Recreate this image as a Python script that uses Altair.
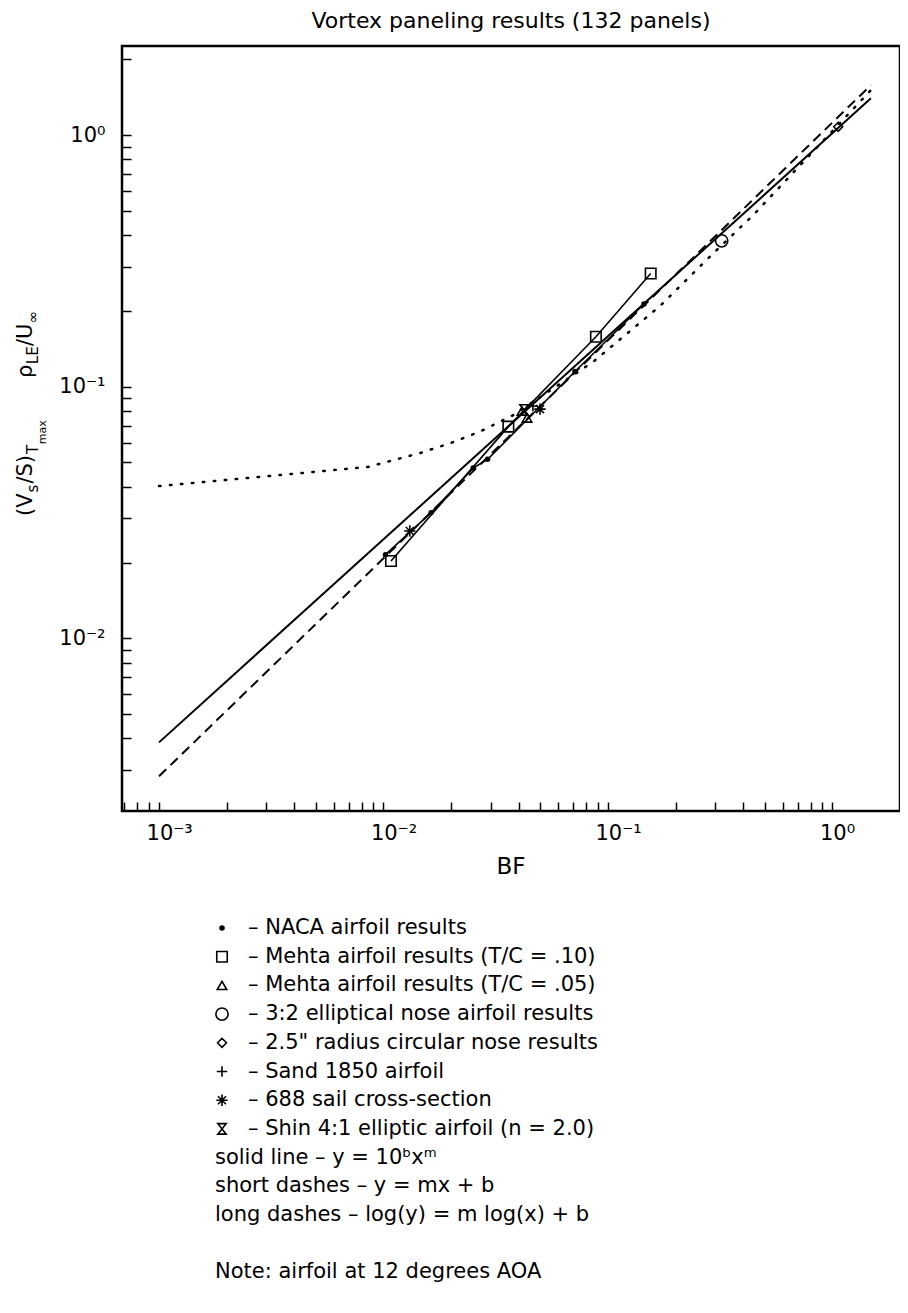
import altair as alt
import pandas as pd

# ---------------- values ----------------
# data series (BF, (Vs/S)Tmax * rhoLE / Uinf)
naca_bf = [0.0102, 0.0163, 0.0251, 0.0291, 0.0713, 0.1447]
naca_v = [0.0215, 0.0316, 0.0475, 0.0515, 0.1149, 0.2132]
mehta10_bf = [0.0108, 0.0360, 0.0884, 0.155]
mehta10_v = [0.0203, 0.0694, 0.158, 0.282]
mehta05_bf = [0.0414, 0.0436]
mehta05_v = [0.0800, 0.0751]
ellip_bf = [0.321]
ellip_v = [0.380]
circnose_bf = [1.061]
circnose_v = [1.079]
sand_bf = [0.0463]
sand_v = [0.0838]
sail_bf = [0.0131, 0.0498]
sail_v = [0.0267, 0.0815]
shin_bf = [0.0423]
shin_v = [0.0808]

# fitted curves
solid_bf = [0.001, 1.484]
solid_v = [0.00386, 1.40]
long_bf = [0.001, 1.484]
long_v = [0.00283, 1.58]
short_bf = [0.001, 0.00853, 0.01454, 0.0201, 0.0269, 0.0379, 0.086, 0.1704, 0.2944, 0.4437, 1.484]
short_v = [0.0403, 0.0480, 0.0545, 0.0599, 0.0663, 0.0772, 0.1257, 0.2092, 0.3388, 0.481, 1.509]

# axis tick values
x_ticks = [m * 10.0 ** e for e in range(-4, 1) for m in range(1, 10)]
x_ticks = [t for t in x_ticks if 6.9e-4 <= t <= 2.0] + [2.0]
y_ticks = [m * 10.0 ** e for e in range(-3, 1) for m in range(1, 10)]
y_ticks = [t for t in y_ticks if 2.5e-3 <= t <= 2.2] + [2.0]

title_text = "Vortex paneling results (132 panels)"
x_title = "BF"
legend_symbol_rows = [
    ("naca", "–  NACA airfoil results"),
    ("m10", "–  Mehta airfoil results (T/C = .10)"),
    ("m05", "–  Mehta airfoil results (T/C = .05)"),
    ("ellip", "–  3:2 elliptical nose airfoil results"),
    ("circ", "–  2.5\" radius circular nose results"),
    ("sand", "–  Sand 1850 airfoil"),
    ("sail", "–  688 sail cross-section"),
    ("shin", "–  Shin 4:1 elliptic airfoil (n = 2.0)"),
]
legend_text_rows = [
    "solid line  –  y = 10ᵇxᵐ",
    "short dashes  –  y = mx + b",
    "long dashes  –  log(y) = m log(x) + b",
]
note_text = "Note: airfoil at 12 degrees AOA"

# ---------------- styling ----------------
FONT = "DejaVu Sans"
W, H = 778, 765

PLUS = "M-1,0L1,0M0,-1L0,1"
STAR = "M-1,0L1,0M0,-1L0,1M-0.7,-0.7L0.7,0.7M-0.7,0.7L0.7,-0.7"
HOURGLASS = "M-0.8,-1L0.8,-1L-0.8,1L0.8,1Z"

styles = {
    "naca": dict(shape="circle", size=30, filled=True),
    "m10": dict(shape="square", size=110, filled=False),
    "m05": dict(shape="triangle-up", size=90, filled=False),
    "ellip": dict(shape="circle", size=150, filled=False),
    "circ": dict(shape="diamond", size=80, filled=False),
    "sand": dict(shape=PLUS, size=110, filled=False),
    "sail": dict(shape=STAR, size=130, filled=False),
    "shin": dict(shape=HOURGLASS, size=110, filled=False),
}
series_data = {
    "naca": (naca_bf, naca_v),
    "m10": (mehta10_bf, mehta10_v),
    "m05": (mehta05_bf, mehta05_v),
    "ellip": (ellip_bf, ellip_v),
    "circ": (circnose_bf, circnose_v),
    "sand": (sand_bf, sand_v),
    "sail": (sail_bf, sail_v),
    "shin": (shin_bf, shin_v),
}

xscale = alt.Scale(type="log", domain=[6.84e-4, 2.0], nice=False)
yscale = alt.Scale(type="log", domain=[2.06e-3, 2.26], nice=False)

x_label_expr = (
    "abs(datum.value-0.001)<1e-9 ? '10⁻³' : abs(datum.value-0.01)<1e-9 ? '10⁻²' : "
    "abs(datum.value-0.1)<1e-9 ? '10⁻¹' : abs(datum.value-1)<1e-9 ? '10⁰' : ''"
)
y_label_expr = (
    "abs(datum.value-0.01)<1e-9 ? '10⁻²' : abs(datum.value-0.1)<1e-9 ? '10⁻¹' : "
    "abs(datum.value-1)<1e-9 ? '10⁰' : ''"
)

x_axis = alt.Axis(
    values=x_ticks, labelExpr=x_label_expr, offset=-9, tickSize=9, tickWidth=1.5,
    tickColor="black", domain=False, grid=False, title=None, labelFont=FONT,
    labelFontSize=21, labelColor="black", labelPadding=11, labelAlign="left",
    labelOffset=-13, labelFlush=False, labelOverlap=False, labelBound=False,
)
y_axis = alt.Axis(
    values=y_ticks, labelExpr=y_label_expr, offset=-9, tickSize=9, tickWidth=1.5,
    tickColor="black", domain=False, grid=False, title=None, labelFont=FONT,
    labelFontSize=21, labelColor="black", labelPadding=17, labelAlign="right",
    labelBaseline="middle", labelFlush=False, labelOverlap=False, labelBound=False,
)

X = alt.X("bf:Q", scale=xscale, axis=x_axis)
Y = alt.Y("v:Q", scale=yscale, axis=y_axis)


def frame(bf, v):
    return pd.DataFrame({"bf": bf, "v": v})


layers = []

# fitted lines
layers.append(alt.Chart(frame(solid_bf, solid_v)).mark_line(color="black", strokeWidth=2).encode(x=X, y=Y))
layers.append(alt.Chart(frame(long_bf, long_v)).mark_line(color="black", strokeWidth=2, strokeDash=[10, 6]).encode(x=X, y=Y))
layers.append(alt.Chart(frame(short_bf, short_v)).mark_line(color="black", strokeWidth=2.5, strokeDash=[1.5, 9.5], strokeCap="round").encode(x=X, y=Y))

# connecting lines of data series
layers.append(alt.Chart(frame(naca_bf, naca_v)).mark_line(color="black", strokeWidth=1.6).encode(x=X, y=Y))
layers.append(alt.Chart(frame(mehta10_bf, mehta10_v)).mark_line(color="black", strokeWidth=1.6).encode(x=X, y=Y))

# data symbols
for key, (bf, v) in series_data.items():
    st = styles[key]
    layers.append(
        alt.Chart(frame(bf, v)).mark_point(
            shape=st["shape"], size=st["size"], filled=st["filled"], color="black",
            strokeWidth=1.6, opacity=1,
        ).encode(x=X, y=Y)
    )


def text_layer(txt, x, y, size, align="left", baseline="middle", angle=None):
    kw = dict(font=FONT, fontSize=size, color="black", align=align, baseline=baseline)
    if angle is not None:
        kw["angle"] = angle
    return alt.Chart(pd.DataFrame({"t": [txt]})).mark_text(**kw).encode(
        text="t:N", x=alt.value(x), y=alt.value(y)
    )


# title and x-axis title
layers.append(text_layer(title_text, 389, -25, 22, align="center"))
layers.append(text_layer(x_title, 389, 821, 23, align="center"))

# y-axis title built from pieces (with subscripts), rotated
y_title_pieces = [
    ("(V", 21, -90, 470),
    ("s", 15, -84, 446.4),
    ("/S)", 21, -90, 437.6),
    ("T", 15, -84, 408),
    ("max", 11, -76, 398.3),
    ("ρ", 21, -90, 332),
    ("LE", 15, -84, 318.2),
    ("/U", 21, -90, 300),
    ("∞", 15, -84, 277.3),
]
for txt, fs, px, py in y_title_pieces:
    layers.append(text_layer(txt, px, py, fs, align="left", baseline="alphabetic", angle=270))

# legend below the plot
ROW0 = 882
STEP = 28.7
for i, (key, label) in enumerate(legend_symbol_rows):
    st = styles[key]
    layers.append(
        alt.Chart(pd.DataFrame({"a": [0]})).mark_point(
            shape=st["shape"], size=st["size"], filled=st["filled"], color="black",
            strokeWidth=1.6, opacity=1,
        ).encode(x=alt.value(100), y=alt.value(ROW0 + i * STEP))
    )
    layers.append(text_layer(label, 126, ROW0 + i * STEP, 21))
for j, label in enumerate(legend_text_rows):
    layers.append(text_layer(label, 93, ROW0 + (len(legend_symbol_rows) + j) * STEP, 21))
layers.append(text_layer(note_text, 93, ROW0 + 12 * STEP, 21))

chart = (
    alt.layer(*layers)
    .properties(
        width=W,
        height=H,
        autosize=alt.AutoSizeParams(type="none"),
        padding={"left": 114, "top": 38, "right": 0, "bottom": 490},
        background="white",
    )
    .configure_view(stroke="black", strokeWidth=2.5)
)

chart.save("out.html", embed_options={"renderer": "svg", "actions": False})
